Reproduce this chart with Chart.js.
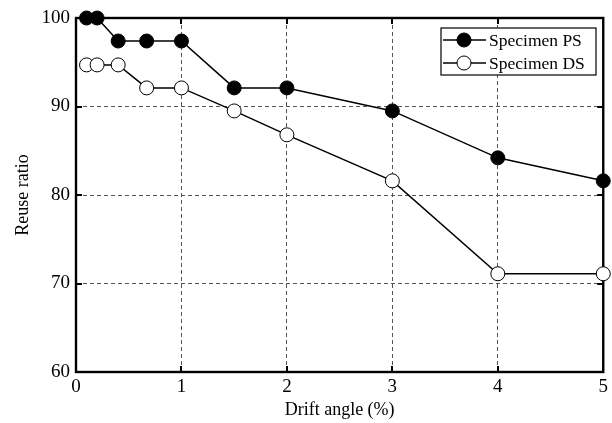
<!DOCTYPE html>
<html>
<head>
<meta charset="utf-8">
<script src="https://cdn.jsdelivr.net/npm/chart.js@4/dist/chart.umd.min.js"></script>
<style>
html,body{margin:0;padding:0;background:#fff;}
#wrap{width:612px;height:423px;}
</style>
</head>
<body>
<div id="wrap"><canvas id="c" width="612" height="423"></canvas></div>
<script>
const driftPS = [0.1, 0.2, 0.4, 0.67, 1, 1.5, 2, 3, 4, 5];
const reusePS = [100, 100, 97.4, 97.4, 97.4, 92.1, 92.1, 89.5, 84.2, 81.6];
const driftDS = [0.1, 0.2, 0.4, 0.67, 1, 1.5, 2, 3, 4, 5];
const reuseDS = [94.7, 94.7, 94.7, 92.1, 92.1, 89.5, 86.8, 81.6, 71.1, 71.1];
const seriesLabels = ["Specimen PS", "Specimen DS"];
const xTitle = "Drift angle (%)";
const yTitle = "Reuse ratio";

const FONT = "'Liberation Serif', 'Times New Roman', serif";

function pts(xs, ys){ return xs.map((x,i)=>({x:x, y:ys[i]})); }

const frameAndLegend = {
  id: 'frameAndLegend',
  beforeDatasetsDraw(chart){
    const ctx = chart.ctx, a = chart.chartArea;
    const xs = chart.scales.x, ys = chart.scales.y;
    ctx.save();
    ctx.strokeStyle = '#000'; ctx.lineWidth = 2;
    ctx.beginPath();
    xs.ticks.forEach(t=>{ const p = Math.round(xs.getPixelForValue(t.value));
      ctx.moveTo(p, a.bottom); ctx.lineTo(p, a.bottom-6);
      ctx.moveTo(p, a.top); ctx.lineTo(p, a.top+6); });
    ys.ticks.forEach(t=>{ const p = Math.round(ys.getPixelForValue(t.value));
      ctx.moveTo(a.left, p); ctx.lineTo(a.left+6, p);
      ctx.moveTo(a.right, p); ctx.lineTo(a.right-6, p); });
    ctx.stroke();
    ctx.lineWidth = 2.4;
    ctx.strokeRect(a.left, a.top, a.right-a.left, a.bottom-a.top);
    ctx.restore();
  },
  afterDraw(chart){
    const ctx = chart.ctx;
    ctx.save();
    const bx = 441, by = 28, bw = 155, bh = 47;
    ctx.fillStyle = '#fff';
    ctx.fillRect(bx, by, bw, bh);
    ctx.lineWidth = 1.2; ctx.strokeStyle = '#000';
    ctx.strokeRect(bx, by, bw, bh);
    chart.data.datasets.forEach((ds, i)=>{
      const cy = by + 12 + i*23;
      ctx.lineWidth = 1.5; ctx.strokeStyle = '#000';
      ctx.beginPath(); ctx.moveTo(bx+2, cy); ctx.lineTo(bx+45, cy); ctx.stroke();
      ctx.beginPath(); ctx.arc(bx+23, cy, 7, 0, Math.PI*2);
      ctx.fillStyle = ds.pointBackgroundColor; ctx.fill();
      ctx.lineWidth = 1; ctx.stroke();
      ctx.fillStyle = '#000';
      ctx.font = '17.5px ' + FONT;
      ctx.textBaseline = 'middle'; ctx.textAlign = 'left';
      ctx.fillText(ds.label, bx+48, cy+1);
    });
    ctx.restore();
  }
};

new Chart(document.getElementById('c'), {
  type: 'scatter',
  data: {
    datasets: [
      { label: seriesLabels[0], data: pts(driftPS, reusePS), showLine: true, clip: false,
        borderColor: '#000', borderWidth: 1.5, pointRadius: 7, pointHoverRadius: 7,
        pointBackgroundColor: '#000', pointBorderColor: '#000', pointBorderWidth: 1 },
      { label: seriesLabels[1], data: pts(driftDS, reuseDS), showLine: true, clip: false,
        borderColor: '#000', borderWidth: 1.5, pointRadius: 7, pointHoverRadius: 7,
        pointBackgroundColor: '#fff', pointBorderColor: '#000', pointBorderWidth: 1 }
    ]
  },
  options: {
    responsive: false,
    animation: false,
    devicePixelRatio: 1,
    layout: { padding: { left: 0, right: 8, top: 18, bottom: 0 } },
    plugins: { legend: { display: false }, tooltip: { enabled: false } },
    scales: {
      x: {
        type: 'linear', min: 0, max: 5,
        ticks: { stepSize: 1, color: '#000', font: { family: FONT, size: 19 }, padding: 4 },
        grid: { drawTicks: false, color: ctx => (ctx.tick && (ctx.tick.value === 0 || ctx.tick.value === 5)) ? 'rgba(0,0,0,0)' : '#555', lineWidth: 1, tickLength: 0 },
        border: { display: false, dash: [4,3] },
        title: { display: true, text: xTitle, color: '#000', font: { family: FONT, size: 18 }, padding: { top: 0, bottom: 2 } },
        afterFit(s){ s.height = 51; }
      },
      y: {
        type: 'linear', min: 60, max: 100,
        ticks: { stepSize: 10, color: '#000', font: { family: FONT, size: 19 }, padding: 6 },
        grid: { drawTicks: false, color: ctx => (ctx.tick && (ctx.tick.value === 60 || ctx.tick.value === 100)) ? 'rgba(0,0,0,0)' : '#555', lineWidth: 1, tickLength: 0 },
        border: { display: false, dash: [4,3] },
        title: { display: true, text: yTitle, color: '#000', font: { family: FONT, size: 18 }, padding: { top: 12, bottom: 0 } },
        afterFit(s){ s.width = 76; }
      }
    }
  },
  plugins: [frameAndLegend]
});
</script>
</body>
</html>
